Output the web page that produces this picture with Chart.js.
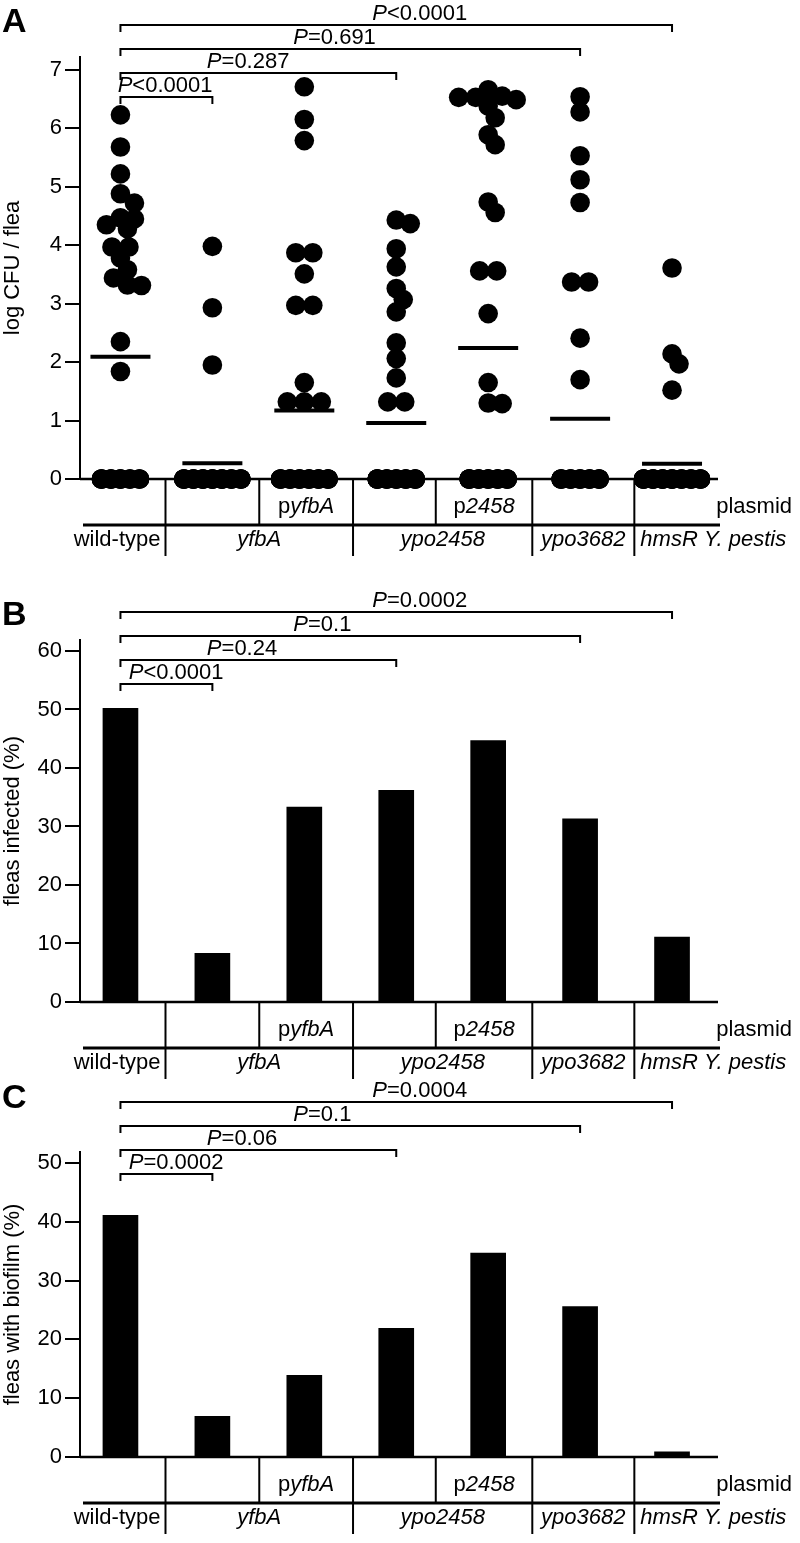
<!DOCTYPE html>
<html>
<head>
<meta charset="utf-8">
<script src="https://cdn.jsdelivr.net/npm/chart.js@4/dist/chart.umd.min.js"></script>
<style>
  html, body { margin: 0; padding: 0; background: #fff; }
  #wrap { position: relative; width: 800px; height: 1543px; }
  canvas { position: absolute; left: 0; }
</style>
</head>
<body>
<div id="wrap">
  <canvas id="chartA" width="800" height="570" style="top:0px"></canvas>
  <canvas id="chartB" width="800" height="510" style="top:570px"></canvas>
  <canvas id="chartC" width="800" height="463" style="top:1080px"></canvas>
</div>
<script>
// --- data ---
const groups = ['wild-type', 'yfbA', 'yfbA + pyfbA', 'ypo2458', 'ypo2458 + p2458', 'ypo3682', 'hmsR'];

// panel A: log CFU / flea, non-zero fleas per group, plus number of fleas at 0
const cfuWildType = [6.23, 5.68, 5.22, 4.88, 4.72, 4.47, 4.45, 4.35, 4.28, 3.97, 3.97, 3.78, 3.58, 3.44, 3.32, 3.31, 2.35, 1.84];
const cfuYfbA = [3.98, 2.93, 1.95];
const cfuYfbAComp = [6.71, 6.15, 5.79, 3.87, 3.87, 3.51, 2.97, 2.97, 1.65, 1.32, 1.32, 1.32];
const cfuYpo2458 = [4.43, 4.37, 3.94, 3.63, 3.26, 3.07, 2.86, 2.33, 2.06, 1.73, 1.32, 1.32];
const cfuYpo2458Comp = [6.66, 6.55, 6.53, 6.53, 6.49, 6.38, 6.18, 5.89, 5.72, 4.74, 4.56, 3.56, 3.56, 2.83, 1.65, 1.30, 1.29];
const cfuYpo3682 = [6.54, 6.28, 5.53, 5.12, 4.73, 3.37, 3.37, 2.41, 1.70];
const cfuHmsR = [3.61, 2.14, 1.97, 1.52];
const cfuZeroCount = [18, 33, 24, 21, 21, 20, 32];
const cfuMean = [2.09, 0.27, 1.17, 0.96, 2.24, 1.03, 0.26];

// panels B and C: percentages
const fleasInfected = [50.2, 8.3, 33.3, 36.2, 44.7, 31.3, 11.1];
const fleasBiofilm = [41.1, 6.9, 13.9, 21.9, 34.7, 25.6, 0.9];

// tick labels
const ticksA = [0, 1, 2, 3, 4, 5, 6, 7];
const ticksB = [0, 10, 20, 30, 40, 50, 60];
const ticksC = [0, 10, 20, 30, 40, 50];

// comparisons against wild-type
const compareTo = [1, 3, 5, 6];
const pLabelsA = ['P<0.0001', 'P=0.287', 'P=0.691', 'P<0.0001'];
const pLabelsB = ['P<0.0001', 'P=0.24', 'P=0.1', 'P=0.0002'];
const pLabelsC = ['P=0.0002', 'P=0.06', 'P=0.1', 'P=0.0004'];

// --- layout ---
const FONT = '"Liberation Sans", Arial, Helvetica, sans-serif';
const X_MIN = -0.44, X_MAX = 6.5;
const PX_X = 638 / (X_MAX - X_MIN);
const PX_Y = 422 / 7.22;
const tableEdges = [0.49, 1.51, 2.53, 3.43, 4.48, 5.59];
const genotypeEdges = [0.49, 2.53, 4.48, 5.59];

// spread dots sideways so they do not sit on top of each other
function swarm(values, zeros, gi) {
  const levels = [];
  values.slice().sort((a, b) => b - a).forEach(v => {
    const l = levels.find(L => L.v === v);
    if (l) l.n++; else levels.push({ v, n: 1 });
  });
  if (zeros) levels.push({ v: 0, n: zeros });
  const placed = [];
  const pts = [];
  levels.forEach(({ v, n }) => {
    const slots = v === 0 ? Math.min(n, n > 28 ? 7 : n > 22 ? 6 : 5) : n;
    const step = v === 0 ? 9.5 : 17;
    const base = [];
    for (let k = 0; k < n; k++) base.push(((k % slots) - (slots - 1) / 2) * step);
    const py = v * PX_Y;
    let shift = 0;
    if (v !== 0 && placed.length) {
      let best = -1;
      for (let t = 0; t < 9; t++) {
        const s = t === 0 ? 0 : (t % 2 ? 1 : -1) * Math.ceil(t / 2) * 7;
        let dmin = Infinity;
        base.forEach(b => placed.forEach(p => {
          dmin = Math.min(dmin, Math.hypot(p.x - (b + s), p.y - py));
        }));
        if (dmin >= 12) { shift = s; break; }
        if (dmin > best) { best = dmin; shift = s; }
      }
    }
    base.forEach(b => {
      placed.push({ x: b + shift, y: py });
      pts.push({ x: gi + (b + shift) / PX_X, y: v });
    });
  });
  return pts;
}

function setFont(ctx, italic, size, bold) {
  ctx.font = (italic ? 'italic ' : '') + (bold ? 'bold ' : '') + size + 'px ' + FONT;
}

function richText(ctx, parts, x, y, align) {
  let w = 0;
  parts.forEach(([t, it]) => { setFont(ctx, it, 22); w += ctx.measureText(t).width; });
  let cx = align === 'center' ? x - w / 2 : align === 'right' ? x - w : x;
  ctx.textAlign = 'left';
  parts.forEach(([t, it]) => {
    setFont(ctx, it, 22);
    ctx.fillText(t, cx, y);
    cx += ctx.measureText(t).width;
  });
}

function seg(ctx, x1, y1, x2, y2) {
  ctx.beginPath(); ctx.moveTo(x1, y1); ctx.lineTo(x2, y2); ctx.stroke();
}

const figurePlugin = {
  id: 'figure',
  beforeDatasetsDraw(chart, args, opts) {
    const { ctx, chartArea: area, scales: { x, y } } = chart;
    const y0 = y.getPixelForValue(0);
    const px = v => x.getPixelForValue(v);
    ctx.save();
    ctx.strokeStyle = '#000';
    ctx.fillStyle = '#000';
    // baseline
    ctx.lineWidth = 2.5;
    seg(ctx, area.left, y0, area.right, y0);
    // table under the axis
    ctx.lineWidth = 2;
    tableEdges.forEach(e => seg(ctx, px(e), y0, px(e), y0 + 46));
    genotypeEdges.forEach(e => seg(ctx, px(e), y0 + 46, px(e), y0 + 77));
    ctx.lineWidth = 3;
    seg(ctx, area.left + 3, y0 + 46, area.right + 2, y0 + 46);
    ctx.textBaseline = 'middle';
    const r1 = y0 + 28, r2 = y0 + 61;
    richText(ctx, [['p', false], ['yfbA', true]], (px(1.51) + px(2.53)) / 2, r1, 'center');
    richText(ctx, [['p', false], ['2458', true]], (px(3.43) + px(4.48)) / 2, r1, 'center');
    richText(ctx, [['plasmid', false]], 792, r1, 'right');
    richText(ctx, [['wild-type', false]], px(0.49) - 5, r2, 'right');
    richText(ctx, [['yfbA', true]], (px(0.49) + px(2.53)) / 2, r2, 'center');
    richText(ctx, [['ypo2458', true]], (px(2.53) + px(4.48)) / 2, r2, 'center');
    richText(ctx, [['ypo3682', true]], (px(4.48) + px(5.59)) / 2, r2, 'center');
    richText(ctx, [['hmsR Y. pestis', true]], px(5.59) + 6, r2, 'left');
    ctx.restore();
  },
  afterDraw(chart, args, opts) {
    const { ctx, scales: { x } } = chart;
    const px = v => x.getPixelForValue(v);
    ctx.save();
    ctx.strokeStyle = '#000';
    ctx.fillStyle = '#000';
    ctx.lineWidth = 2;
    ctx.textBaseline = 'alphabetic';
    opts.labels.forEach((lab, i) => {
      const by = opts.bracketY - i * 24;
      const x1 = px(0), x2 = px(compareTo[i]);
      ctx.beginPath();
      ctx.moveTo(x1, by + 7); ctx.lineTo(x1, by); ctx.lineTo(x2, by); ctx.lineTo(x2, by + 7);
      ctx.stroke();
      richText(ctx, [['P', true], [lab.slice(1), false]], px(opts.labelStart[i]), by - 5, 'left');
    });
    setFont(ctx, false, 34, true);
    ctx.textAlign = 'left';
    ctx.fillText(opts.letter, 2, opts.letterY);
    ctx.restore();
  }
};

function yAxis(max, ticks, title) {
  return {
    min: 0,
    max: max,
    afterBuildTicks: s => { s.ticks = ticks.map(v => ({ value: v })); },
    afterFit: s => { s.width = 80; },
    grid: { drawOnChartArea: false, tickLength: 15, lineWidth: 2, color: '#000' },
    border: { display: true, color: '#000', width: 2 },
    ticks: { font: { size: 22, family: FONT }, color: '#000', padding: 3 },
    title: { display: true, text: title, font: { size: 22, family: FONT }, color: '#000', padding: 0 }
  };
}

function panel(id, type, datasets, padTop, padBottom, y, fig) {
  return new Chart(document.getElementById(id), {
    type: type,
    data: { datasets: datasets },
    options: {
      responsive: false,
      animation: false,
      events: [],
      layout: { padding: { top: padTop, bottom: padBottom, left: 0, right: 82 } },
      scales: {
        x: { type: 'linear', min: X_MIN, max: X_MAX, offset: false, display: false },
        y: y
      },
      plugins: { legend: { display: false }, tooltip: { enabled: false }, figure: fig }
    },
    plugins: [figurePlugin]
  });
}

// panel A
const cfuGroups = [cfuWildType, cfuYfbA, cfuYfbAComp, cfuYpo2458, cfuYpo2458Comp, cfuYpo3682, cfuHmsR];
const dots = cfuGroups.flatMap((vals, i) => swarm(vals, cfuZeroCount[i], i));
panel('chartA', 'scatter', [
  { data: dots, pointRadius: 9.8, pointBackgroundColor: '#000', pointBorderWidth: 0, clip: false },
  { data: cfuMean.map((m, i) => ({ x: i, y: m })), pointStyle: 'line', pointRadius: 30,
    pointBorderColor: '#000', pointBorderWidth: 4, clip: false }
], 57, 91, yAxis(7.22, ticksA, 'log CFU / flea'),
  { letter: 'A', letterY: 32, bracketY: 97, labels: pLabelsA, labelStart: [-0.03, 0.94, 1.88, 2.74] });

// panel B
panel('chartB', 'bar', [
  { data: fleasInfected.map((v, i) => ({ x: i, y: v })), backgroundColor: '#000', barThickness: 35, borderWidth: 0 }
], 70, 78, yAxis(61.88, ticksB, 'fleas infected (%)'),
  { letter: 'B', letterY: 55, bracketY: 114, labels: pLabelsB, labelStart: [0.09, 0.94, 1.88, 2.74] });

// panel C
panel('chartC', 'bar', [
  { data: fleasBiofilm.map((v, i) => ({ x: i, y: v })), backgroundColor: '#000', barThickness: 35, borderWidth: 0 }
], 72, 86, yAxis(51.87, ticksC, 'fleas with biofilm (%)'),
  { letter: 'C', letterY: 28, bracketY: 94, labels: pLabelsC, labelStart: [0.09, 0.94, 1.88, 2.74] });
</script>
</body>
</html>
